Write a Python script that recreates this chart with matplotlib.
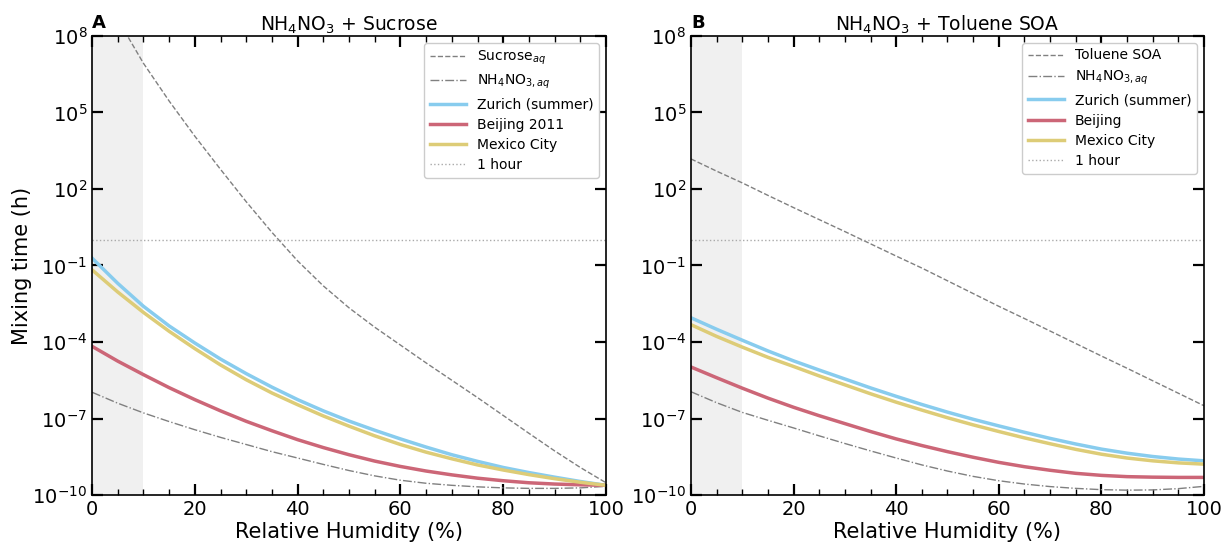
import numpy as np
import matplotlib
matplotlib.use("Agg")
import matplotlib.pyplot as plt

# relative humidity grid (%)
rh = [0, 5, 10, 15, 20, 25, 30, 35, 40, 45, 50, 55, 60, 65, 70, 75, 80, 85, 90, 95, 100]

# panel A: NH4NO3 + Sucrose, log10 of mixing time (h)
sucrose_log = [10.5, 8.65, 6.93, 5.45, 4.07, 2.77, 1.5, 0.3, -0.82, -1.8, -2.66, -3.42, -4.12,
               -4.82, -5.5, -6.18, -6.88, -7.58, -8.27, -8.92, -9.52]
nh4no3_a_log = [-5.97, -6.4, -6.78, -7.12, -7.44, -7.74, -8.02, -8.3, -8.55, -8.8, -9.04,
                -9.25, -9.42, -9.54, -9.62, -9.68, -9.72, -9.74, -9.74, -9.72, -9.66]
zurich_a_log = [-0.71, -1.7, -2.6, -3.37, -4.04, -4.67, -5.24, -5.77, -6.26, -6.7, -7.1,
                -7.46, -7.8, -8.12, -8.42, -8.68, -8.92, -9.12, -9.3, -9.47, -9.62]
beijing_a_log = [-4.17, -4.75, -5.28, -5.79, -6.26, -6.7, -7.11, -7.48, -7.83, -8.14, -8.42,
                 -8.67, -8.88, -9.06, -9.21, -9.34, -9.44, -9.52, -9.57, -9.6, -9.62]
mexico_a_log = [-1.17, -2.04, -2.84, -3.58, -4.26, -4.9, -5.48, -6.0, -6.46, -6.9, -7.3,
                -7.68, -8.02, -8.32, -8.58, -8.82, -9.02, -9.2, -9.36, -9.5, -9.62]

# panel B: NH4NO3 + Toluene SOA
toluene_log = [3.18, 2.7, 2.24, 1.75, 1.27, 0.8, 0.33, -0.15, -0.63, -1.1, -1.6, -2.1, -2.6,
               -3.08, -3.57, -4.06, -4.55, -5.03, -5.52, -6.01, -6.5]
nh4no3_b_log = [-5.95, -6.38, -6.76, -7.07, -7.37, -7.68, -7.98, -8.27, -8.55, -8.82, -9.06,
                -9.27, -9.44, -9.57, -9.67, -9.74, -9.79, -9.81, -9.8, -9.75, -9.66]
zurich_b_log = [-3.05, -3.5, -3.93, -4.35, -4.74, -5.1, -5.45, -5.8, -6.13, -6.45, -6.75,
                -7.03, -7.29, -7.54, -7.78, -8.0, -8.2, -8.36, -8.49, -8.59, -8.66]
beijing_b_log = [-4.98, -5.4, -5.81, -6.2, -6.56, -6.89, -7.2, -7.51, -7.8, -8.06, -8.3,
                 -8.52, -8.72, -8.89, -9.03, -9.15, -9.23, -9.28, -9.3, -9.31, -9.31]
mexico_b_log = [-3.32, -3.78, -4.2, -4.6, -4.96, -5.33, -5.68, -6.03, -6.36, -6.67, -6.97,
                -7.25, -7.51, -7.76, -7.99, -8.21, -8.4, -8.55, -8.66, -8.74, -8.79]

panels = [
    dict(letter="A", title=r"NH$_4$NO$_3$ + Sucrose",
         matrix=sucrose_log, matrix_label=r"Sucrose$_{aq}$",
         nh4=nh4no3_a_log, zurich=zurich_a_log, beijing=beijing_a_log,
         beijing_label="Beijing 2011", mexico=mexico_a_log),
    dict(letter="B", title=r"NH$_4$NO$_3$ + Toluene SOA",
         matrix=toluene_log, matrix_label="Toluene SOA",
         nh4=nh4no3_b_log, zurich=zurich_b_log, beijing=beijing_b_log,
         beijing_label="Beijing", mexico=mexico_b_log),
]

C_BLUE = "#88ccee"
C_RED = "#cc6677"
C_YELLOW = "#ddcc77"

fig = plt.figure(figsize=(12.24, 5.42), dpi=100)
axes = [fig.add_axes([0.0752, 0.0867, 0.4199, 0.8469]),
        fig.add_axes([0.5645, 0.0867, 0.4192, 0.8469])]

for ax, p in zip(axes, panels):
    x = np.array(rh)
    ax.axvspan(0, 10, color="#f0f0f0", lw=0, zorder=0)
    ax.plot(x, 10.0 ** np.array(p["matrix"]), ls="--", color="#808080", lw=1.0,
            label=p["matrix_label"])
    ax.plot(x, 10.0 ** np.array(p["nh4"]), ls="-.", color="#808080", lw=1.0,
            label=r"NH$_4$NO$_{3,aq}$")
    ax.plot(x, 10.0 ** np.array(p["zurich"]), color=C_BLUE, lw=2.5, label="Zurich (summer)")
    ax.plot(x, 10.0 ** np.array(p["beijing"]), color=C_RED, lw=2.5, label=p["beijing_label"])
    ax.plot(x, 10.0 ** np.array(p["mexico"]), color=C_YELLOW, lw=2.5, label="Mexico City")
    ax.axhline(1.0, ls=":", color="#aaaaaa", lw=1.0, label="1 hour")

    ax.set_yscale("log")
    ax.set_xlim(0, 100)
    ax.set_ylim(1e-10, 1e8)
    ax.set_yticks([10.0 ** k for k in range(-10, 9, 3)])
    ax.yaxis.set_minor_locator(matplotlib.ticker.NullLocator())
    ax.set_xticks(range(0, 101, 20))
    ax.xaxis.set_minor_locator(matplotlib.ticker.MultipleLocator(5))
    ax.tick_params(which="both", direction="in", top=True, right=True, labelsize=14)
    ax.tick_params(which="major", length=8, width=1.6)
    ax.tick_params(which="minor", length=4, width=1.0)
    for s in ax.spines.values():
        s.set_linewidth(1.2)
    ax.set_xlabel("Relative Humidity (%)", fontsize=15, labelpad=2)
    ax.set_title(p["title"], fontsize=13.5, pad=4)
    ax.text(0.0, 1.008, p["letter"], transform=ax.transAxes, fontsize=13,
            fontweight="bold", va="bottom", ha="left")
    ax.legend(loc="upper right", fontsize=10, framealpha=1.0, handlelength=2.6,
              borderaxespad=0.5, labelspacing=0.45)

axes[0].set_ylabel("Mixing time (h)", fontsize=15, labelpad=0)

fig.savefig("out.png", dpi=100)
